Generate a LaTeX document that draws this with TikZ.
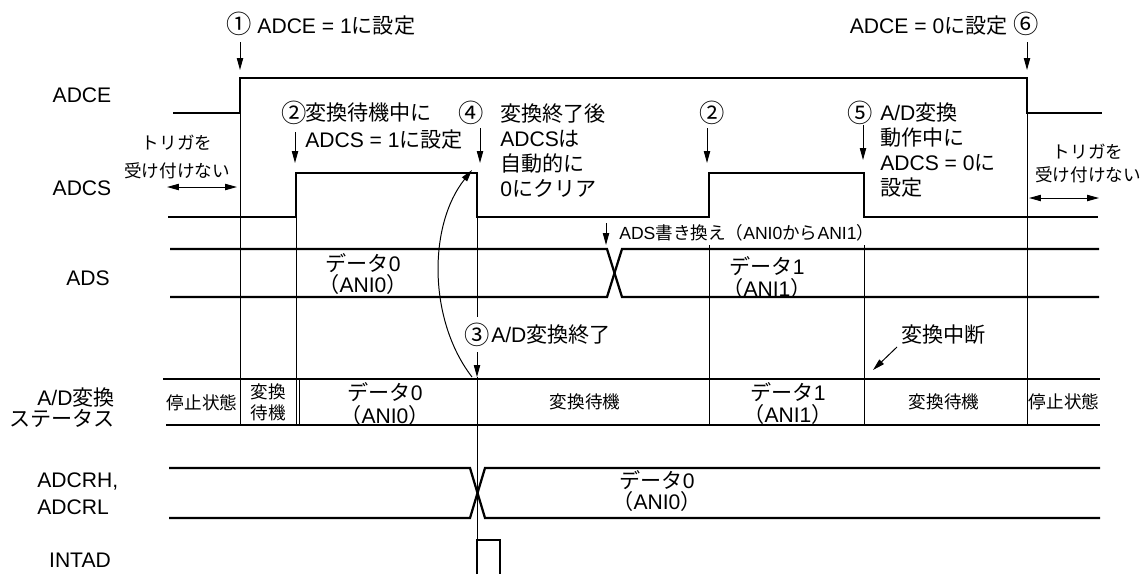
\documentclass[tikz,border=0pt]{standalone}
\usepackage{fontspec}
\setmainfont{Liberation Sans}
\newfontfamily\jfont{Noto Sans CJK JP}
\newcommand{\J}[1]{{\jfont #1}}
\newcommand{\cn}[1]{{\fontsize{18}{18}\selectfont\jfont #1}}
\newcommand{\ani}[1]{\J{（}#1\J{）}}
\usetikzlibrary{arrows.meta,positioning,calc}

\begin{document}
\begin{tikzpicture}[
  x=0.025cm, y=-0.025cm,
  sig/.style={line width=1.6pt},
  gridline/.style={line width=0.7pt},
  pin/.style={line width=0.7pt,-{Triangle[length=8.5pt,width=4.5pt]}},
  span/.style={line width=0.7pt,{Triangle[length=8.5pt,width=4.5pt]}-{Triangle[length=8.5pt,width=4.5pt]}},
  lbl/.style={font=\fontsize{15}{15}\selectfont,inner sep=0pt},
  note/.style={font=\fontsize{15}{17.8}\selectfont,inner sep=0pt,align=left,anchor=west},
  cell/.style={font=\fontsize{12.5}{15}\selectfont,inner sep=0pt,align=center},
  data/.style={font=\fontsize{15}{15.6}\selectfont,inner sep=0pt,align=center}
]
  \useasboundingbox (0,0) rectangle (1144,574);

  % signal names
  \node[lbl] (nADCE) at (82,95) {ADCE};
  \node[lbl] (nADCS) at (82,188) {ADCS};
  \node[lbl] (nADS) at (88,278) {ADS};
  \node[lbl,align=right,anchor=east] (nStat) at (115,407.5) {A/D\J{変換}\\\J{ステータス}};
  \node[lbl,align=left,anchor=west,font=\fontsize{15}{19.2}\selectfont] (nADCR) at (37,493.5) {ADCRH,\\ADCRL};
  \node[lbl] (nINTAD) at (80,560) {INTAD};

  % waveforms
  \draw[sig] (173,113) -- (240,113) -- (240,78) -- (1027,78) -- (1027,113) -- (1102,113);
  \draw[sig] (168,217) -- (296,217) |- (477,173) -- (477,217) -- (709,217) |- (864,173) -- (864,217) -- (1098,217);
  \draw[sig] (170,249) -- (607,249) -- (622,297) -- (1099,297);
  \draw[sig] (170,297) -- (607,297) -- (622,249) -- (1099,249);
  \draw[sig] (163,379) -- (1100,379);
  \draw[sig] (166,425) -- (1100,425);
  \draw[sig] (169,468) -- (470,468) -- (485,518) -- (1100,518);
  \draw[sig] (169,518) -- (470,518) -- (485,468) -- (1100,468);
  \draw[sig] (477,574) |- (500,540) -- (500,574);

  % timing lines
  \foreach \x/\y in {240/113, 296/217, 709/245, 864/245, 1027/113}
    \draw[gridline] (\x,\y) -- (\x,425);
  \draw[gridline] (299,379) -- (299,425);
  \draw[gridline] (477,217) -- (477,317);
  \draw[gridline] (477,377) -- (477,540);

  % notes
  \node[note] (t1) at (226,24) {\cn{①} ADCE = 1\J{に設定}};
  \node[note,anchor=east] (t6) at (1039,24) {ADCE = 0\J{に設定} \cn{⑥}};
  \node[note,anchor=center] (n2) at (294,113) {\cn{②}};
  \node[note,font=\fontsize{15}{19.2}\selectfont] (t2) at (305,126.5) {\J{変換待機中に}\\ADCS = 1\J{に設定}};
  \node[note,anchor=center] (n4) at (471,113) {\cn{④}};
  \node[note] (t4) at (500,150.5) {\J{変換終了後}\\ADCS\J{は}\\\J{自動的に}\\0\J{にクリア}};
  \node[note,anchor=center] (n2b) at (712,113) {\cn{②}};
  \node[note,anchor=center] (n5) at (860,113) {\cn{⑤}};
  \node[note,font=\fontsize{15}{17.6}\selectfont] (t5) at (880,150) {A/D\J{変換}\\\J{動作中に}\\ADCS = 0\J{に}\\\J{設定}};
  \node[cell,font=\fontsize{12.5}{20}\selectfont] (tl) at (177,157) {\J{トリガを}\\\J{受け付けない}};
  \node[cell,font=\fontsize{12.5}{16.4}\selectfont] (tr) at (1088,163.5) {\J{トリガを}\\\J{受け付けない}};
  \node[cell,anchor=west] (tads) at (619,233) {ADS\J{書き換え（}ANI0\J{から}ANI1\J{）}};
  \node[note,anchor=center] (n3) at (477.5,335) {\cn{③}};
  \node[note] (t3) at (491,335) {A/D\J{変換終了}};
  \node[note] (tstop) at (901,335) {\J{変換中断}};

  % data and states
  \node[data] (d0) at (363,274) {\J{データ}0\\\ani{ANI0}};
  \node[data] (d1) at (767,277.5) {\J{データ}1\\\ani{ANI1}};
  \node[cell] (s1) at (202,403) {\J{停止状態}};
  \node[cell] (s2) at (268,402.5) {\J{変換}\\\J{待機}};
  \node[data,font=\fontsize{15}{16}\selectfont] (s3) at (385,404) {\J{データ}0\\\ani{ANI0}};
  \node[cell] (s4) at (585,402) {\J{変換待機}};
  \node[data,font=\fontsize{15}{16}\selectfont] (s5) at (788,403.5) {\J{データ}1\\\ani{ANI1}};
  \node[cell] (s6) at (944,402) {\J{変換待機}};
  \node[cell] (s7) at (1064,402) {\J{停止状態}};
  \node[data] (r0) at (657,491) {\J{データ}0\\\ani{ANI0}};

  % arrows
  \foreach \n/\x/\ya/\yb in {p1/240/42/70, p6/1027/42/70, p2/295/132/163, p4/480/128/163,
      p2b/707/128/163, p5/863/125/160, pads/606/223/245, p3/477/352/377} {
    \coordinate (\n a) at (\x,\ya);
    \coordinate (\n b) at (\x,\yb);
    \draw[pin] (\n a) -- (\n b);
  }
  \coordinate (cs) at (472,377);
  \coordinate (ce) at (472,170);
  \draw[pin] (cs) .. controls (428,320) and (428,225) .. (ce);
  \coordinate (ka) at (897,347);
  \coordinate (kb) at (873,370);
  \draw[pin] (ka) -- (kb);
  \coordinate (la) at (167,187);
  \coordinate (lb) at (237,187);
  \draw[span] (la) -- (lb);
  \coordinate (ra) at (1029,198);
  \coordinate (rb) at (1099,198);
  \draw[span] (ra) -- (rb);
\end{tikzpicture}
\end{document}
